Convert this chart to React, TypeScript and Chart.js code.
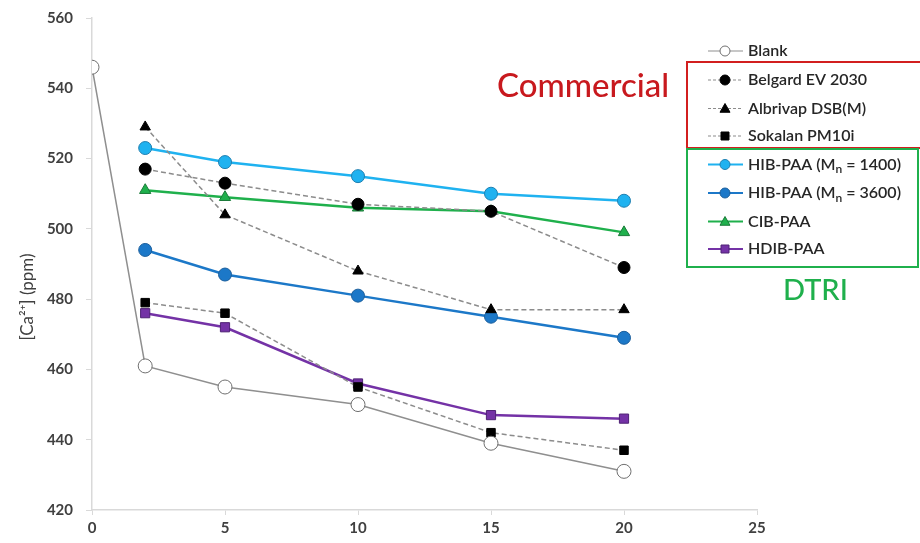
import React, { useEffect, useRef } from "react";
import { Chart, registerables } from "chart.js";
Chart.register(...registerables);

const blankTimes = [0, 2, 5, 10, 15, 20];
const blankVals = [546, 461, 455, 450, 439, 431];
const times = [2, 5, 10, 15, 20];
const belgardVals = [517, 513, 507, 505, 489];
const albrivapVals = [529, 504, 488, 477, 477];
const sokalanVals = [479, 476, 455, 442, 437];
const hib1400Vals = [523, 519, 515, 510, 508];
const hib3600Vals = [494, 487, 481, 475, 469];
const cibVals = [511, 509, 506, 505, 499];
const hdibVals = [476, 472, 456, 447, 446];
const xTicks = [0, 5, 10, 15, 20, 25];
const yTicks = [420, 440, 460, 480, 500, 520, 540, 560];
const yTitle = "[Ca²⁺] (ppm)";

const FONT = "Lato, 'Open Sans', sans-serif";

const pts = (xs: number[], ys: number[]) => xs.map((x, i) => ({ x, y: ys[i] }));

type Spec = {
  label: string;
  xs: number[];
  ys: number[];
  line: string;
  fill: string;
  border: string;
  style: string;
  dash: number[];
  width: number;
  radius: number;
};

const specs: Spec[] = [
  { label: "Blank", xs: blankTimes, ys: blankVals, line: "#8f8f8f", fill: "#ffffff", border: "#6f6f6f", style: "circle", dash: [], width: 1.5, radius: 7 },
  { label: "Belgard EV 2030", xs: times, ys: belgardVals, line: "#8c8c8c", fill: "#000000", border: "#000000", style: "circle", dash: [5, 3], width: 1.5, radius: 6 },
  { label: "Albrivap DSB(M)", xs: times, ys: albrivapVals, line: "#8c8c8c", fill: "#000000", border: "#000000", style: "triangle", dash: [5, 3], width: 1.5, radius: 6 },
  { label: "Sokalan PM10i", xs: times, ys: sokalanVals, line: "#8c8c8c", fill: "#000000", border: "#000000", style: "rect", dash: [5, 3], width: 1.5, radius: 6 },
  { label: "HIB-PAA (M|n| = 1400)", xs: times, ys: hib1400Vals, line: "#1fb2f0", fill: "#1fb2f0", border: "#1f7fb0", style: "circle", dash: [], width: 2.5, radius: 6.5 },
  { label: "HIB-PAA (M|n| = 3600)", xs: times, ys: hib3600Vals, line: "#1c78c8", fill: "#1c78c8", border: "#1c5f9c", style: "circle", dash: [], width: 2.5, radius: 6.5 },
  { label: "CIB-PAA", xs: times, ys: cibVals, line: "#1fb04c", fill: "#1fb04c", border: "#1a7a38", style: "triangle", dash: [], width: 2.5, radius: 6.5 },
  { label: "HDIB-PAA", xs: times, ys: hdibVals, line: "#7432a6", fill: "#7432a6", border: "#4f2275", style: "rect", dash: [], width: 2.5, radius: 6.5 },
];

function drawMarker(ctx: CanvasRenderingContext2D, s: Spec, cx: number, cy: number, r: number) {
  ctx.save();
  ctx.fillStyle = s.fill;
  ctx.strokeStyle = s.border;
  ctx.lineWidth = 1;
  ctx.setLineDash([]);
  ctx.beginPath();
  if (s.style === "circle") {
    ctx.arc(cx, cy, r, 0, Math.PI * 2);
  } else if (s.style === "triangle") {
    ctx.moveTo(cx, cy - r);
    ctx.lineTo(cx + r, cy + r * 0.75);
    ctx.lineTo(cx - r, cy + r * 0.75);
    ctx.closePath();
  } else {
    ctx.rect(cx - r * 0.8, cy - r * 0.8, r * 1.6, r * 1.6);
  }
  ctx.fill();
  ctx.stroke();
  ctx.restore();
}

const legendPlugin = {
  id: "customLegend",
  afterDraw(chart: any) {
    const ctx: CanvasRenderingContext2D = chart.ctx;
    ctx.save();
    const rowsY = [51, 80, 108.5, 136, 164.5, 193, 221.5, 249];
    specs.forEach((s, i) => {
      const y = rowsY[i];
      ctx.strokeStyle = s.line;
      ctx.lineWidth = s.width === 1.5 ? 1.2 : 2;
      ctx.setLineDash(s.dash.length ? [3, 2] : []);
      ctx.beginPath();
      ctx.moveTo(708, y);
      ctx.lineTo(743, y);
      ctx.stroke();
      drawMarker(ctx, s, 725, y, 5);
      ctx.fillStyle = "#262626";
      ctx.textBaseline = "middle";
      ctx.textAlign = "left";
      ctx.font = `600 16px ${FONT}`;
      const parts = s.label.split("|");
      let x = 748;
      if (parts.length === 3) {
        ctx.fillText(parts[0], x, y);
        x += ctx.measureText(parts[0]).width;
        ctx.font = `600 12px ${FONT}`;
        ctx.fillText(parts[1], x, y + 5);
        x += ctx.measureText(parts[1]).width;
        ctx.font = `600 16px ${FONT}`;
        ctx.fillText(parts[2], x, y);
      } else {
        ctx.fillText(s.label, x, y);
      }
    });
    ctx.setLineDash([]);
    ctx.lineWidth = 2;
    ctx.strokeStyle = "#d21f1f";
    ctx.strokeRect(687, 62, 240, 86);
    ctx.strokeStyle = "#1fb04c";
    ctx.strokeRect(687, 149, 231, 118);
    ctx.textAlign = "left";
    ctx.textBaseline = "middle";
    ctx.font = `500 33px ${FONT}`;
    ctx.fillStyle = "#c8191e";
    ctx.fillText("Commercial", 497, 86);
    ctx.font = `500 29px ${FONT}`;
    ctx.fillStyle = "#1fb04c";
    ctx.fillText("DTRI", 783, 291);
    // y-axis title
    ctx.translate(28, 297);
    ctx.rotate(-Math.PI / 2);
    ctx.textAlign = "center";
    ctx.font = `17px ${FONT}`;
    ctx.fillStyle = "#404040";
    ctx.fillText(yTitle, 0, 0);
    ctx.restore();
  },
};

export default function App() {
  const ref = useRef<HTMLCanvasElement | null>(null);
  useEffect(() => {
    if (!ref.current) return;
    const chart = new Chart(ref.current, {
      type: "scatter",
      data: {
        datasets: specs.map((s) => ({
          label: s.label,
          data: pts(s.xs, s.ys),
          showLine: true,
          borderColor: s.line,
          borderWidth: s.width,
          borderDash: s.dash,
          backgroundColor: s.fill,
          pointBackgroundColor: s.fill,
          pointBorderColor: s.border,
          pointBorderWidth: 1,
          pointStyle: s.style as any,
          pointRadius: s.radius,
          tension: 0,
        })),
      },
      options: {
        responsive: false,
        animation: false,
        layout: { padding: { top: 18, right: 163, left: 0, bottom: 0 } },
        plugins: { legend: { display: false }, tooltip: { enabled: false } },
        scales: {
          x: {
            type: "linear",
            min: 0,
            max: 25,
            afterBuildTicks: (scale: any) => {
              scale.ticks = xTicks.map((v) => ({ value: v }));
            },
            afterFit: (scale: any) => {
              scale.height = 33;
              scale.paddingLeft = 0;
              scale.paddingRight = 0;
            },
            grid: { drawOnChartArea: false, drawTicks: true, tickLength: 5, color: "#d9d9d9" },
            border: { color: "#d9d9d9", width: 1.5 },
            ticks: { color: "#404040", font: { family: FONT, size: 15, weight: "bold" as any }, padding: 4, maxRotation: 0 },
          },
          y: {
            type: "linear",
            min: 420,
            max: 560,
            afterBuildTicks: (scale: any) => {
              scale.ticks = yTicks.map((v) => ({ value: v }));
            },
            afterFit: (scale: any) => {
              scale.width = 92;
              scale.paddingTop = 0;
              scale.paddingBottom = 0;
            },
            grid: { drawOnChartArea: false, drawTicks: true, tickLength: 6, color: "#d9d9d9" },
            border: { color: "#d9d9d9", width: 1.5 },
            ticks: { color: "#404040", font: { family: FONT, size: 15, weight: "bold" as any }, padding: 13 },
            title: { display: false },
          },
        },
      },
      plugins: [legendPlugin],
    });
    return () => chart.destroy();
  }, []);
  return (
    <div style={{ position: "fixed", left: 0, top: 0, width: 920, height: 543, background: "#fff" }}>
      <canvas ref={ref} width={920} height={543} style={{ width: 920, height: 543 }} />
    </div>
  );
}
